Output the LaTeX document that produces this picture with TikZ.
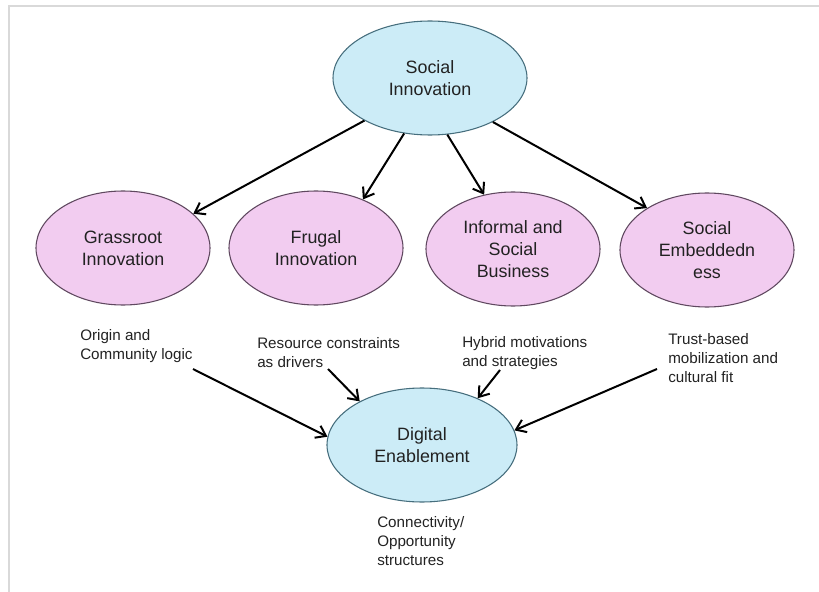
\documentclass[tikz,border=0pt]{standalone}
\usepackage{fontspec}
\setmainfont{Liberation Sans}
\usepackage{tikz}
\usetikzlibrary{shapes.geometric, arrows.meta}
\usepackage{xcolor}
\definecolor{azulfundo}{RGB}{204,236,247}
\definecolor{azulborda}{RGB}{70,110,125}
\definecolor{rosafundo}{RGB}{242,204,240}
\definecolor{rosaborda}{RGB}{95,72,95}
\definecolor{texto}{RGB}{34,34,34}

\begin{document}
\begin{tikzpicture}[x=0.75pt, y=-0.75pt,
    azul/.style={ellipse, draw=azulborda, fill=azulfundo, line width=0.8pt, inner sep=0pt,
        align=center, text=texto, font=\fontsize{13.4pt}{16.4pt}\selectfont},
    rosa/.style={ellipse, draw=rosaborda, fill=rosafundo, line width=0.8pt, inner sep=0pt,
        minimum width=130.5pt, minimum height=85.5pt,
        align=center, text=texto, font=\fontsize{13.4pt}{16.4pt}\selectfont},
    rotulo/.style={anchor=west, inner sep=0pt, align=left, text=texto,
        font=\fontsize{11.4pt}{14.3pt}\selectfont},
    seta/.style={line width=1.5pt, -{Straight Barb[length=7pt, width=10pt]}}]
    \useasboundingbox (0,0) rectangle (819,592);
    % Moldura
    \draw[gray!30, line width=1.5pt] (9,592) -- (9,6) -- (819,6);
    % Elipses
    \node[azul, minimum width=145.5pt, minimum height=85.5pt] (social) at (430,78) {Social\\Innovation};
    \node[rosa] (grass) at (123,248) {Grassroot\\Innovation};
    \node[rosa] (frugal) at (316,248) {Frugal\\Innovation};
    \node[rosa] (informal) at (513,249) {Informal and\\Social\\Business};
    \node[rosa] (embed) at (707,250) {Social\\Embeddedn\\ess};
    \node[azul, minimum width=142.5pt, minimum height=85.5pt] (digital) at (422,445) {Digital\\Enablement};
    % Rotulos
    \node[rotulo] (origem) at (80,346) {Origin and\\Community logic};
    \node[rotulo] (recurso) at (257,353) {Resource constraints\\as drivers};
    \node[rotulo] (hibrido) at (462,353) {Hybrid motivations\\and strategies};
    \node[rotulo] (confianca) at (668,358) {Trust-based\\mobilization and\\cultural fit};
    \node[rotulo] (conexao) at (377,541) {Connectivity/\\Opportunity\\structures};
    % Inicio das setas
    \coordinate (c-origem) at (193,369);
    \coordinate (c-recurso) at (328,369);
    \coordinate (c-hibrido) at (500,370);
    \coordinate (c-confianca) at (657,369);
    % Setas
    \draw[seta] (social.213) -- (grass.26);
    \draw[seta] (social.245) -- (frugal.46);
    \draw[seta] (social.287) -- (informal.118);
    \draw[seta] (social.325) -- (embed.145);
    \draw[seta] (c-origem) -- (digital.175);
    \draw[seta] (c-recurso) -- (digital.145);
    \draw[seta] (c-hibrido) -- (digital.40);
    \draw[seta] (c-confianca) -- (digital.9);
\end{tikzpicture}
\end{document}
